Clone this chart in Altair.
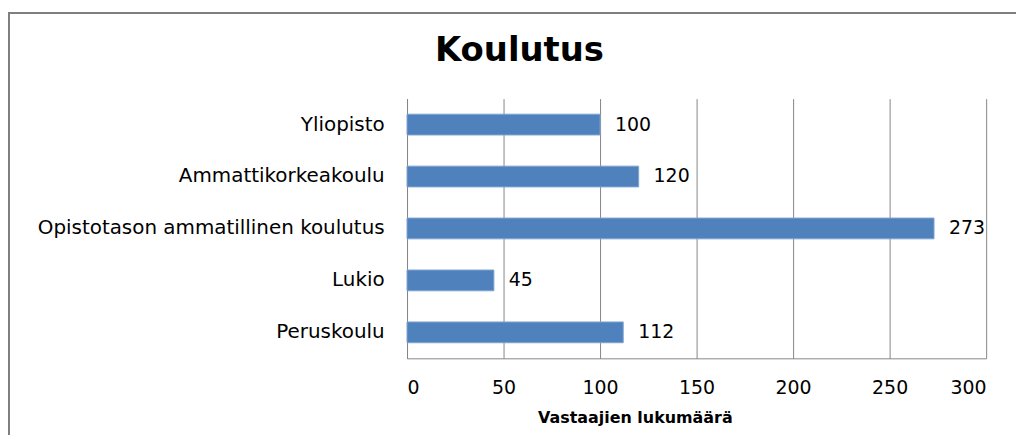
import altair as alt
import pandas as pd

categories = ["Yliopisto", "Ammattikorkeakoulu", "Opistotason ammatillinen koulutus", "Lukio", "Peruskoulu"]
values = [100, 120, 273, 45, 112]
x_ticks = [0, 50, 100, 150, 200, 250, 300]

df = pd.DataFrame({"koulutus": categories, "n": values})
FONT = "DejaVu Sans"
GRID = "#868686"

y = alt.Y(
    "koulutus:N", sort=categories, title=None,
    scale=alt.Scale(paddingInner=0.6, paddingOuter=0.3),
    axis=alt.Axis(labelFont=FONT, labelFontSize=20, labelColor="#000000", labelPadding=23,
                  ticks=False, domainColor=GRID, labelLimit=420),
)
x = alt.X(
    "n:Q", scale=alt.Scale(domain=[0, 300], nice=False), title="Vastaajien lukumäärä",
    axis=alt.Axis(values=x_ticks, grid=True, gridColor=GRID, gridOpacity=1, ticks=False,
                  domainColor=GRID, labelFont=FONT, labelFontSize=19, labelColor="#000000",
                  labelPadding=20, titleFont=FONT, titleFontSize=16, titleFontWeight="bold",
                  titleColor="#000000", titleX=229, titleY=65, titleBaseline="alphabetic"),
)

bars = alt.Chart(df).mark_bar(color="#4F81BD", stroke="#7FA3D0", strokeWidth=1).encode(x=x, y=y)
labels = alt.Chart(df).mark_text(align="left", baseline="middle", dx=15, font=FONT, fontSize=19,
                                 color="#000000").encode(x="n:Q", y=alt.Y("koulutus:N", sort=categories), text="n:Q")

frame = alt.Chart(pd.DataFrame({"a": [0]})).mark_rect(fillOpacity=0, stroke="#7F7F7F", strokeWidth=2).encode(
    x=alt.value(-400), x2=alt.value(640), y=alt.value(-86), y2=alt.value(420)
)

chart = alt.layer(frame, bars, labels).properties(
    width=582, height=261,
    padding={"left": 401, "top": 90, "right": 30, "bottom": 76},
    autosize="none",
    title=alt.TitleParams(text="Koulutus", font=FONT, fontSize=34, fontWeight="bold", color="#000000",
                          anchor="middle", frame="group", offset=0, baseline="alphabetic", dx=-178, dy=83),
).configure_view(strokeWidth=0)

chart.save("out.html", embed_options={"renderer": "svg", "actions": False})
